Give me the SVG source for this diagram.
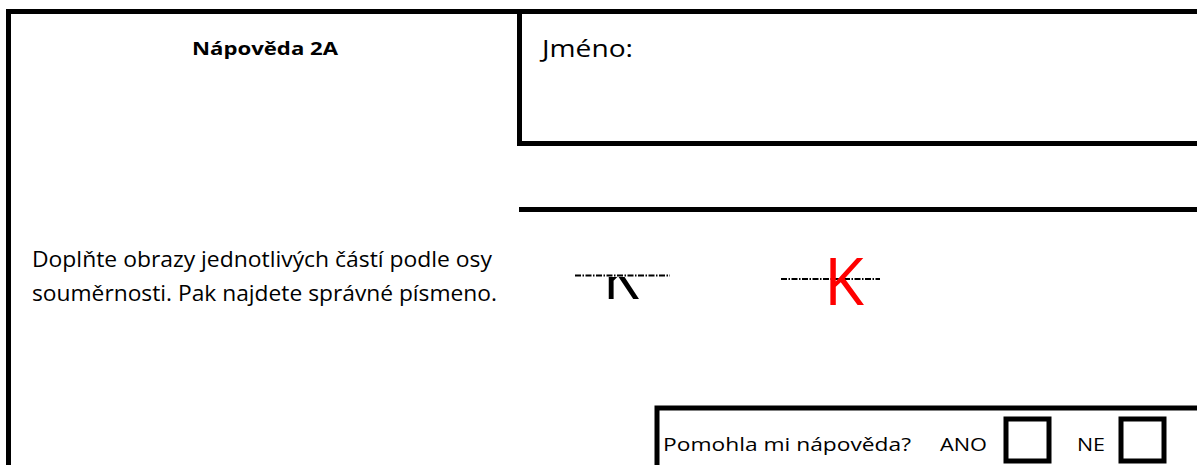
<svg xmlns="http://www.w3.org/2000/svg" width="1197" height="465" viewBox="0 0 1197 465">
<defs>
<style>
.ln{fill:none;stroke:#000;stroke-width:5}
.t{font-family:"Open Sans","Liberation Sans",sans-serif;fill:#000}
.k{font-family:"Open Sans","Liberation Sans",sans-serif;font-size:66px;font-weight:500}
.dash{fill:none;stroke-width:2;stroke-dasharray:6 1.5 1.5 1.5}
</style>
<clipPath id="below"><rect x="560" y="277" width="120" height="40"/></clipPath>
</defs>
<rect width="1197" height="465" fill="#fff"/>
<g id="frame">
<path class="ln" d="M8.5 465 V11.5 H1197"/>
</g>
<g id="name-box">
<path class="ln" d="M519.5 14 V143.5 H1197"/>
<text class="t" x="542" y="57" font-size="23" textLength="91" lengthAdjust="spacingAndGlyphs">Jméno:</text>
</g>
<g id="divider">
<path class="ln" d="M519 209.5 H1197"/>
</g>
<g id="title">
<text class="t" x="265" y="55" font-size="18" font-weight="bold" text-anchor="middle" textLength="146" lengthAdjust="spacingAndGlyphs">Nápověda 2A</text>
</g>
<g id="instructions">
<text class="t" x="32" y="267" font-size="21" textLength="460" lengthAdjust="spacingAndGlyphs">Doplňte obrazy jednotlivých částí podle osy</text>
<text class="t" x="32" y="301" font-size="21" textLength="465" lengthAdjust="spacingAndGlyphs">souměrnosti. Pak najdete správné písmeno.</text>
</g>
<g id="puzzle">
<text class="k" x="603" y="299" fill="#000" clip-path="url(#below)" textLength="36" lengthAdjust="spacingAndGlyphs">K</text>
<path class="dash" stroke="#000" d="M575 275.5 H670"/>
</g>
<g id="answer">
<path class="dash" stroke="#000" d="M781 279 H880"/>
<text class="k" x="824" y="305" fill="#ff0000" textLength="40" lengthAdjust="spacingAndGlyphs">K</text>
</g>
<g id="help-box">
<path class="ln" d="M657 465 V408 H1197"/>
<text class="t" x="663" y="451" font-size="19" textLength="248" lengthAdjust="spacingAndGlyphs">Pomohla mi nápověda?</text>
<text class="t" x="940" y="451" font-size="19" textLength="47" lengthAdjust="spacingAndGlyphs">ANO</text>
<rect class="ln" x="1006" y="419" width="43" height="42" stroke-width="3"/>
<text class="t" x="1077" y="451" font-size="19" textLength="28" lengthAdjust="spacingAndGlyphs">NE</text>
<rect class="ln" x="1121" y="419" width="43" height="42" stroke-width="3"/>
</g>
</svg>
